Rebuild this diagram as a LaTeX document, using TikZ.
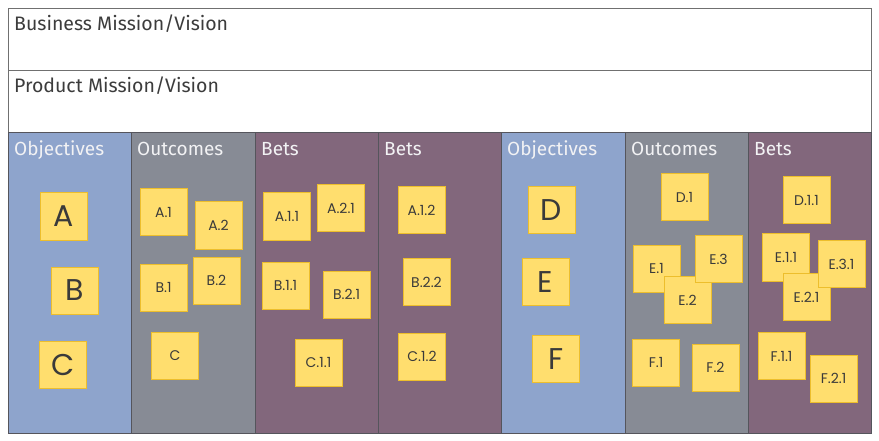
\documentclass[tikz,border=0pt]{standalone}
\usepackage{fontspec}
\setmainfont{Fira Sans}
\newfontfamily\notefont{Poppins}
\definecolor{objblue}{HTML}{8EA4CC}
\definecolor{outgray}{HTML}{878B95}
\definecolor{betpurple}{HTML}{82677C}
\definecolor{coledge}{HTML}{55555C}
\definecolor{bandline}{HTML}{707070}
\definecolor{headtext}{HTML}{3C3C3C}
\definecolor{titlewhite}{HTML}{F2F2F4}
\definecolor{noteyellow}{HTML}{FFDE6E}
\definecolor{noteedge}{HTML}{EDBE2C}
\definecolor{notetext}{HTML}{3A3A3A}

\tikzset{
  sticky/.style={draw=noteedge, fill=noteyellow, line width=1pt, minimum size=47pt,
    inner sep=0pt, text=notetext, font=\notefont\fontsize{14}{14}\selectfont},
  bigsticky/.style={sticky, font=\notefont\fontsize{30}{30}\selectfont},
  coltitle/.style={anchor=base west, inner sep=0pt, text=titlewhite,
    font=\fontsize{19}{19}\selectfont},
  bandtitle/.style={anchor=base west, inner sep=0pt, text=headtext,
    font=\fontsize{19.5}{19.5}\selectfont},
}

\begin{document}
\begin{tikzpicture}[x=1pt, y=-1pt]
        \useasboundingbox (0,0) rectangle (879,441);
        % Draw the mission/vision bands
        \filldraw[fill=white,draw=bandline] (8,8) rectangle (871,70);
        \filldraw[fill=white,draw=bandline] (8,70) rectangle (871,132);
        \node[bandtitle] (business) at (14,31) {Business Mission/Vision};
        \node[bandtitle] (product) at (14,93) {Product Mission/Vision};
        % Draw the columns
        \foreach \xa/\xb/\c in {8/131/objblue, 131/255/outgray, 255/378/betpurple, 378/501/betpurple, 501/625/objblue, 625/748/outgray, 748/871/betpurple}
        \filldraw[fill=\c,draw=coledge] (\xa,132) rectangle (\xb,433);
        \foreach \x/\t [count=\i] in {14/Objectives, 137/Outcomes, 261/Bets, 384/Bets, 507/Objectives, 631/Outcomes, 754/Bets}
        \node[coltitle] (title\i) at (\x,156) {\t};
        % Draw the objectives
        \foreach \x/\y/\n/\t in {63.5/216.5/a/A, 74.5/290.5/b/B, 63/364.5/c/C, 551.5/210/d/D, 545.5/282/e/E, 556/359/f/F}
        \node[bigsticky] (\n) at (\x,\y) {\t};
        % Draw the outcomes
        \foreach \x/\y/\n/\t in {163.5/212/a1/A.1, 218.5/225.5/a2/A.2, 163.5/287.5/b1/B.1, 216.5/280.5/b2/B.2, 175/355.5/c1/C,
          684.5/197.5/d1/D.1, 656.5/268.5/e1/E.1, 687.5/300/e2/E.2, 718.5/259/e3/E.3, 656/362.5/f1/F.1, 715.5/367.5/f2/F.2}
        \node[sticky] (\n) at (\x,\y) {\t};
        % Draw the bets
        \foreach \x/\y/\n/\t in {287/216.5/a11/A.1.1, 341/208/a21/A.2.1, 285.5/285.5/b11/B.1.1, 346.5/294.5/b21/B.2.1, 318.5/362.5/c11/C.1.1,
          421.5/210.5/a12/A.1.2, 426.5/282/b22/B.2.2, 422/356.5/c12/C.1.2,
          806.5/200.5/d11/D.1.1, 786/257.5/e11/E.1.1, 806.5/297/e21/E.2.1, 841.5/264/e31/E.3.1, 781.5/356/f11/F.1.1, 833.5/378.5/f21/F.2.1}
        \node[sticky] (\n) at (\x,\y) {\t};
    \end{tikzpicture}
\end{document}
